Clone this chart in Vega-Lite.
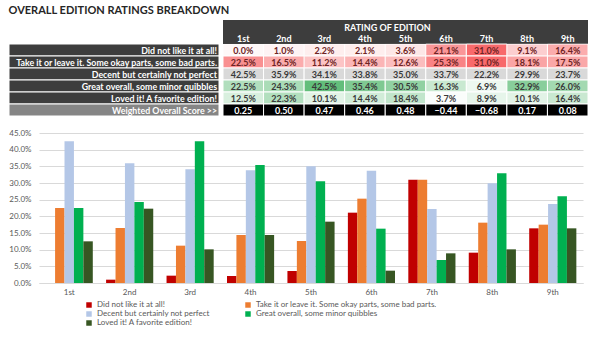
{
  "$schema": "https://vega.github.io/schema/vega-lite/v6.json",
  "padding": {"left": 8, "top": 5, "right": 6, "bottom": 2},
  "background": "white",
  "config": {"font": "Lato", "view": {"stroke": null}},
  "title": {"text": "OVERALL EDITION RATINGS BREAKDOWN", "anchor": "start", "fontSize": 11, "fontWeight": "bold", "color": "#262626", "font": "Lato", "offset": 4},
  "spacing": 12,
  "datasets": {
    "ratings": [
      {"edition": "1st", "rating": "Did not like it at all!", "value": 0.0},
      {"edition": "1st", "rating": "Take it or leave it. Some okay parts, some bad parts.", "value": 0.225},
      {"edition": "1st", "rating": "Decent but certainly not perfect", "value": 0.425},
      {"edition": "1st", "rating": "Great overall, some minor quibbles", "value": 0.225},
      {"edition": "1st", "rating": "Loved it!  A favorite edition!", "value": 0.125},
      {"edition": "2nd", "rating": "Did not like it at all!", "value": 0.010},
      {"edition": "2nd", "rating": "Take it or leave it. Some okay parts, some bad parts.", "value": 0.165},
      {"edition": "2nd", "rating": "Decent but certainly not perfect", "value": 0.359},
      {"edition": "2nd", "rating": "Great overall, some minor quibbles", "value": 0.243},
      {"edition": "2nd", "rating": "Loved it!  A favorite edition!", "value": 0.223},
      {"edition": "3rd", "rating": "Did not like it at all!", "value": 0.022},
      {"edition": "3rd", "rating": "Take it or leave it. Some okay parts, some bad parts.", "value": 0.112},
      {"edition": "3rd", "rating": "Decent but certainly not perfect", "value": 0.341},
      {"edition": "3rd", "rating": "Great overall, some minor quibbles", "value": 0.425},
      {"edition": "3rd", "rating": "Loved it!  A favorite edition!", "value": 0.101},
      {"edition": "4th", "rating": "Did not like it at all!", "value": 0.021},
      {"edition": "4th", "rating": "Take it or leave it. Some okay parts, some bad parts.", "value": 0.144},
      {"edition": "4th", "rating": "Decent but certainly not perfect", "value": 0.338},
      {"edition": "4th", "rating": "Great overall, some minor quibbles", "value": 0.354},
      {"edition": "4th", "rating": "Loved it!  A favorite edition!", "value": 0.144},
      {"edition": "5th", "rating": "Did not like it at all!", "value": 0.036},
      {"edition": "5th", "rating": "Take it or leave it. Some okay parts, some bad parts.", "value": 0.126},
      {"edition": "5th", "rating": "Decent but certainly not perfect", "value": 0.350},
      {"edition": "5th", "rating": "Great overall, some minor quibbles", "value": 0.305},
      {"edition": "5th", "rating": "Loved it!  A favorite edition!", "value": 0.184},
      {"edition": "6th", "rating": "Did not like it at all!", "value": 0.211},
      {"edition": "6th", "rating": "Take it or leave it. Some okay parts, some bad parts.", "value": 0.253},
      {"edition": "6th", "rating": "Decent but certainly not perfect", "value": 0.337},
      {"edition": "6th", "rating": "Great overall, some minor quibbles", "value": 0.163},
      {"edition": "6th", "rating": "Loved it!  A favorite edition!", "value": 0.037},
      {"edition": "7th", "rating": "Did not like it at all!", "value": 0.310},
      {"edition": "7th", "rating": "Take it or leave it. Some okay parts, some bad parts.", "value": 0.310},
      {"edition": "7th", "rating": "Decent but certainly not perfect", "value": 0.222},
      {"edition": "7th", "rating": "Great overall, some minor quibbles", "value": 0.069},
      {"edition": "7th", "rating": "Loved it!  A favorite edition!", "value": 0.089},
      {"edition": "8th", "rating": "Did not like it at all!", "value": 0.091},
      {"edition": "8th", "rating": "Take it or leave it. Some okay parts, some bad parts.", "value": 0.181},
      {"edition": "8th", "rating": "Decent but certainly not perfect", "value": 0.299},
      {"edition": "8th", "rating": "Great overall, some minor quibbles", "value": 0.329},
      {"edition": "8th", "rating": "Loved it!  A favorite edition!", "value": 0.101},
      {"edition": "9th", "rating": "Did not like it at all!", "value": 0.164},
      {"edition": "9th", "rating": "Take it or leave it. Some okay parts, some bad parts.", "value": 0.175},
      {"edition": "9th", "rating": "Decent but certainly not perfect", "value": 0.237},
      {"edition": "9th", "rating": "Great overall, some minor quibbles", "value": 0.260},
      {"edition": "9th", "rating": "Loved it!  A favorite edition!", "value": 0.164}
    ],
    "scores": [
      {"edition": "1st", "score": 0.25},
      {"edition": "2nd", "score": 0.50},
      {"edition": "3rd", "score": 0.47},
      {"edition": "4th", "score": 0.46},
      {"edition": "5th", "score": 0.48},
      {"edition": "6th", "score": -0.44},
      {"edition": "7th", "score": -0.68},
      {"edition": "8th", "score": 0.17},
      {"edition": "9th", "score": 0.08}
    ],
    "rows": [
      {"row": "Did not like it at all!"},
      {"row": "Take it or leave it. Some okay parts, some bad parts."},
      {"row": "Decent but certainly not perfect"},
      {"row": "Great overall, some minor quibbles"},
      {"row": "Loved it!  A favorite edition!"},
      {"row": "Weighted Overall Score >>"}
    ],
    "header": [
      {"row": "h1", "t": "RATING OF EDITION"},
      {"row": "h2", "t": ""}
    ]
  },
  "vconcat": [
    {
      "hconcat": [
        {
          "width": 210, "height": 96,
          "data": {"name": "rows"},
          "encoding": {
            "y": {"field": "row", "type": "nominal", "axis": null,
              "scale": {"domain": ["h1", "h2", "Did not like it at all!", "Take it or leave it. Some okay parts, some bad parts.", "Decent but certainly not perfect", "Great overall, some minor quibbles", "Loved it!  A favorite edition!", "Weighted Overall Score >>"], "paddingInner": 0, "paddingOuter": 0}}
          },
          "layer": [
            {"mark": {"type": "rect", "stroke": "white", "strokeWidth": 1},
             "encoding": {"color": {"condition": {"test": "datum.row === 'Weighted Overall Score >>'", "value": "#858585"}, "value": "#3d3d3d"}}},
            {"mark": {"type": "text", "align": "right", "baseline": "middle", "dx": -2, "dy": 1, "fontSize": 8.8, "fontWeight": "bold", "color": "white"},
             "encoding": {"x": {"value": "width"}, "text": {"field": "row"}}}
          ]
        },
        {
          "width": 365, "height": 96,
          "encoding": {
            "y": {"field": "row", "type": "nominal", "axis": null,
              "scale": {"domain": ["h1", "h2", "Did not like it at all!", "Take it or leave it. Some okay parts, some bad parts.", "Decent but certainly not perfect", "Great overall, some minor quibbles", "Loved it!  A favorite edition!", "Weighted Overall Score >>"], "paddingInner": 0, "paddingOuter": 0}}
          },
          "layer": [
            {"data": {"name": "header"},
             "mark": {"type": "rect", "color": "#3d3d3d"},
             "encoding": {}},
            {"data": {"name": "header"},
             "transform": [{"filter": "datum.row === 'h1'"}],
             "mark": {"type": "text", "fontSize": 9, "fontWeight": "bold", "color": "white", "baseline": "middle", "dy": 2, "dx": -18},
             "encoding": {"text": {"field": "t"}}},
            {"data": {"name": "scores"},
             "mark": {"type": "text", "fontSize": 9, "fontWeight": "bold", "color": "white", "baseline": "middle", "dy": 1},
             "encoding": {"y": {"datum": "h2", "type": "nominal"},
               "x": {"field": "edition", "type": "nominal", "axis": null, "scale": {"domain": ["1st","2nd","3rd","4th","5th","6th","7th","8th","9th"], "paddingInner": 0, "paddingOuter": 0}},
               "text": {"field": "edition"}}},
            {"data": {"name": "ratings"},
             "transform": [{"filter": "datum.rating === 'Did not like it at all!' || datum.rating === 'Take it or leave it. Some okay parts, some bad parts.'"}],
             "mark": {"type": "rect", "stroke": "white", "strokeWidth": 1, "color": "#f8696b"},
             "encoding": {"x": {"field": "edition", "type": "nominal"}, "y": {"field": "rating", "type": "nominal"},
               "opacity": {"field": "value", "type": "quantitative", "legend": null, "scale": {"domain": [0, 0.31], "range": [0.04, 1]}}}},
            {"data": {"name": "ratings"},
             "transform": [{"filter": "datum.rating === 'Decent but certainly not perfect'"}],
             "mark": {"type": "rect", "stroke": "white", "strokeWidth": 1, "color": "#d9d9d9"},
             "encoding": {"x": {"field": "edition", "type": "nominal"}, "y": {"field": "rating", "type": "nominal"}}},
            {"data": {"name": "ratings"},
             "transform": [{"filter": "datum.rating === 'Great overall, some minor quibbles' || datum.rating === 'Loved it!  A favorite edition!'"}],
             "mark": {"type": "rect", "stroke": "white", "strokeWidth": 1, "color": "#63be7b"},
             "encoding": {"x": {"field": "edition", "type": "nominal"}, "y": {"field": "rating", "type": "nominal"},
               "fillOpacity": {"field": "value", "type": "quantitative", "legend": null, "scale": {"domain": [0.037, 0.425], "range": [0.03, 1]}}}},
            {"data": {"name": "ratings"},
             "mark": {"type": "text", "fontSize": 9, "fontWeight": "bold", "baseline": "middle", "dy": 1},
             "encoding": {"x": {"field": "edition", "type": "nominal"}, "y": {"field": "rating", "type": "nominal"},
               "text": {"field": "value", "type": "quantitative", "format": ".1%"},
               "color": {"condition": {"test": "datum.rating === 'Did not like it at all!' || datum.rating === 'Take it or leave it. Some okay parts, some bad parts.'", "value": "#6e2424"}, "value": "#3a3a3a"}}},
            {"data": {"name": "scores"},
             "mark": {"type": "rect", "color": "#000000", "stroke": "white", "strokeWidth": 1},
             "encoding": {"x": {"field": "edition", "type": "nominal"}, "y": {"datum": "Weighted Overall Score >>", "type": "nominal"}}},
            {"data": {"name": "scores"},
             "mark": {"type": "text", "fontSize": 9, "fontWeight": "bold", "color": "white", "baseline": "middle", "dy": 1},
             "encoding": {"x": {"field": "edition", "type": "nominal"}, "y": {"datum": "Weighted Overall Score >>", "type": "nominal"},
               "text": {"field": "score", "type": "quantitative", "format": ".2f"}}}
          ]
        }
      ],
      "spacing": 2
    },
    {
      "width": 574, "height": 150,
      "data": {"name": "ratings"},
      "mark": {"type": "bar"},
      "encoding": {
        "x": {"field": "edition", "type": "nominal", "title": null,
          "scale": {"domain": ["1st","2nd","3rd","4th","5th","6th","7th","8th","9th"], "range": [30, 574], "paddingInner": 0.22, "paddingOuter": 0.11},
          "axis": {"labelAngle": 0, "labelFontSize": 8, "labelColor": "#595959", "ticks": false, "domainColor": "#d9d9d9", "labelPadding": 5}},
        "xOffset": {"field": "rating", "type": "nominal",
          "scale": {"domain": ["Did not like it at all!", "Take it or leave it. Some okay parts, some bad parts.", "Decent but certainly not perfect", "Great overall, some minor quibbles", "Loved it!  A favorite edition!"], "paddingInner": 0, "paddingOuter": 0}},
        "y": {"field": "value", "type": "quantitative", "title": null,
          "scale": {"domain": [0, 0.45], "nice": false},
          "axis": {"format": ".1%", "values": [0, 0.05, 0.1, 0.15, 0.2, 0.25, 0.3, 0.35, 0.4, 0.45], "labelFontSize": 8, "labelColor": "#595959", "ticks": false, "domain": false, "gridColor": "#d9d9d9", "labelPadding": 8, "offset": -30}},
        "color": {"field": "rating", "type": "nominal",
          "scale": {"domain": ["Did not like it at all!", "Take it or leave it. Some okay parts, some bad parts.", "Decent but certainly not perfect", "Great overall, some minor quibbles", "Loved it!  A favorite edition!"],
            "range": ["#c00000", "#ed7d31", "#b4c7e7", "#00b050", "#375623"]},
          "legend": {"orient": "none", "direction": "horizontal", "legendX": 76, "legendY": 281, "title": null, "columns": 2, "symbolType": "square", "symbolSize": 30, "labelFontSize": 8, "labelColor": "#595959", "labelLimit": 300, "columnPadding": 34, "rowPadding": 1}}
      }
    }
  ]
}
